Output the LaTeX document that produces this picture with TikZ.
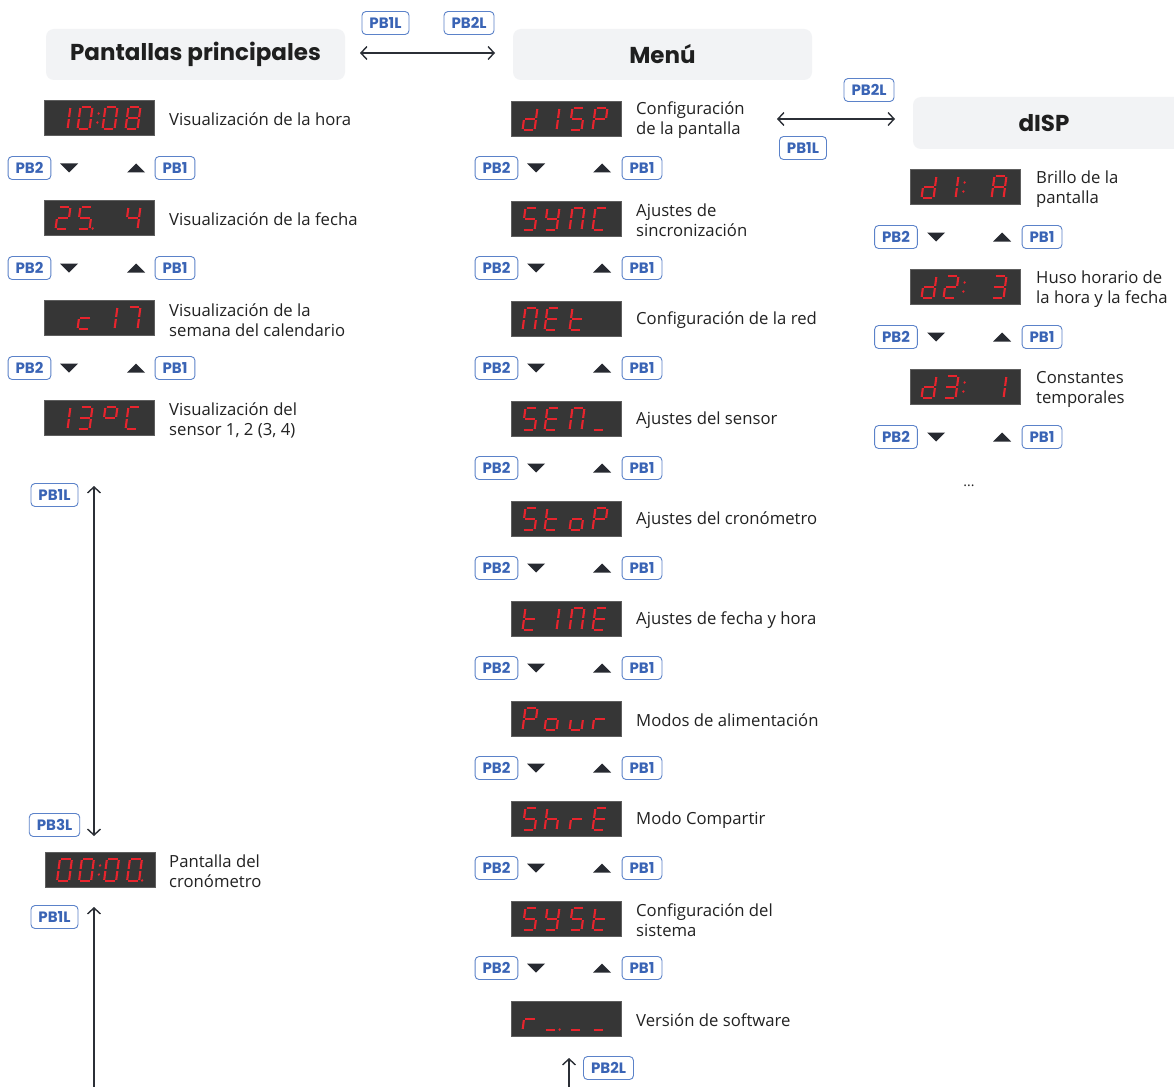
\documentclass[tikz,border=0pt]{standalone}
\usepackage{fontspec}
\setmainfont{Open Sans}
\newfontfamily\pop{Poppins}
\usetikzlibrary{arrows.meta}
\definecolor{hdrfill}{HTML}{F2F3F5}
\definecolor{segred}{HTML}{E8242D}
\definecolor{dispfill}{HTML}{363636}
\definecolor{dispedge}{HTML}{5E5E5E}
\definecolor{pbtext}{HTML}{3A64B5}
\definecolor{pbedge}{HTML}{5B82C9}
\definecolor{conn}{HTML}{2B2F36}
\definecolor{bodytext}{HTML}{222222}
\tikzset{
  seg/.style={draw=segred, line width=2.1pt},
  segdot/.style={fill=segred},
  dispbox/.style={draw=dispedge, fill=dispfill, line width=1pt, minimum width=110pt, minimum height=35pt, inner sep=0pt},
  hdr/.style={fill=hdrfill, rounded corners=8pt, minimum width=299pt, minimum height=51pt, inner sep=0pt, font=\pop\bfseries\fontsize{23}{27}\selectfont, text=black!88},
  hdrtext/.style={inner sep=0pt, font=\pop\bfseries\fontsize{23}{27}\selectfont, text=black!88},
  body/.style={anchor=west, align=left, inner sep=0pt, text=bodytext, font=\fontsize{16.7}{20}\selectfont},
  pb/.style={draw=pbedge, fill=white, line width=0.9pt, rounded corners=4pt, minimum height=23pt, inner xsep=7.5pt, inner ysep=0pt, text=pbtext, font=\pop\bfseries\fontsize{15}{17}\selectfont},
  tri/.style={fill=conn!90!black},
  connline/.style={draw=conn, line width=1.4pt},
  tipboth/.style={{Straight Barb[length=6pt,width=13pt]}-{Straight Barb[length=6pt,width=13pt]}},
  tipend/.style={-{Straight Barb[length=6pt,width=13pt]}},
}
% segments (W=12, H=11)
\newcommand\sgA{\draw[seg] (1.1,-11) -- (10.9,-11);}
\newcommand\sgB{\draw[seg] (12,-9.9) -- (12,-1.1);}
\newcommand\sgC{\draw[seg] (12,1.1) -- (12,9.9);}
\newcommand\sgD{\draw[seg] (1.1,11) -- (10.9,11);}
\newcommand\sgE{\draw[seg] (0,1.1) -- (0,9.9);}
\newcommand\sgF{\draw[seg] (0,-9.9) -- (0,-1.1);}
\newcommand\sgG{\draw[seg] (1.1,0) -- (10.9,0);}
% glyphs
\newcommand\glZero{\sgA\sgB\sgC\sgD\sgE\sgF}
\newcommand\glOne{\sgB\sgC}
\newcommand\glTwo{\sgA\sgB\sgD\sgE\sgG}
\newcommand\glThree{\sgA\sgB\sgC\sgD\sgG}
\newcommand\glFour{\sgB\sgC\sgF\sgG}
\newcommand\glFive{\sgA\sgC\sgD\sgF\sgG}
\newcommand\glSeven{\sgA\sgB\sgC}
\newcommand\glEight{\sgA\sgB\sgC\sgD\sgE\sgF\sgG}
\newcommand\gld{\sgB\sgC\sgD\sgE\sgG}
\newcommand\glS{\sgA\sgC\sgD\sgF\sgG}
\newcommand\glP{\sgA\sgB\sgE\sgF\sgG}
\newcommand\gly{\sgB\sgC\sgD\sgF\sgG}
\newcommand\glN{\sgA\sgB\sgC\sgE\sgF}
\newcommand\glCC{\sgA\sgD\sgE\sgF}
\newcommand\glc{\sgD\sgE\sgG}
\newcommand\glE{\sgA\sgD\sgE\sgF\sgG}
\newcommand\glt{\sgD\sgE\sgF\sgG}
\newcommand\glo{\sgC\sgD\sgE\sgG}
\newcommand\glu{\sgC\sgD\sgE}
\newcommand\glr{\sgE\sgG}
\newcommand\glh{\sgC\sgE\sgF\sgG}
\newcommand\glAA{\sgA\sgB\sgC\sgE\sgF\sgG}
\newcommand\gldeg{\sgA\sgB\sgF\sgG}
\newcommand\glus{\sgD}
\newcommand\dig[2]{\begin{scope}[shift={(#1,0)},xslant=0.13]#2\end{scope}}
\newcommand\colonat[1]{\begin{scope}[shift={(#1,0)},xslant=0.13]\fill[segdot] (0,-4.5) circle (1.3pt); \fill[segdot] (0,4.5) circle (1.3pt);\end{scope}}
\newcommand\dpat[1]{\begin{scope}[shift={(#1,0)},xslant=0.13]\fill[segdot] (0,10.5) circle (1.3pt);\end{scope}}
% display: name, cx, cy, c1, c2, c3, c4, extras
\newcommand\disp[8]{%
  \node[dispbox] (#1) at (#2,#3) {};
  \begin{scope}[shift={(#2-55,#3)}]
    \dig{13}{#4}\dig{35}{#5}\dig{60}{#6}\dig{83}{#7}#8
  \end{scope}}
\newcommand\tridown[2]{\fill[tri] (#1-9,#2-4.5) -- (#1+9,#2-4.5) -- (#1,#2+4.5) -- cycle;}
\newcommand\triup[2]{\fill[tri] (#1-9,#2+4.5) -- (#1+9,#2+4.5) -- (#1,#2-4.5) -- cycle;}
\begin{document}
\begin{tikzpicture}[x=1pt,y=-1pt]
\useasboundingbox[fill=white] (0,0) rectangle (1174,1086);
% headers
\node[hdr] (H1) at (195.5,54.5) {Pantallas principales};
\node[hdr] (H2) at (662.5,54.5) {Menú};
\fill[hdrfill, rounded corners=8pt] (913,97) rectangle (1210,149);
\node[hdrtext] (H3) at (1044,123) {dISP};
% header arrows
\coordinate (a1s) at (360,53);
\coordinate (a1e) at (495,53);
\draw[connline, tipboth] (a1s) -- (a1e);
\node[pb] (pA1) at (385.5,23) {PB1L};
\node[pb] (pA2) at (469,23) {PB2L};
\coordinate (a2s) at (777,119);
\coordinate (a2e) at (895,119);
\draw[connline, tipboth] (a2s) -- (a2e);
\node[pb] (pB1) at (869,90) {PB2L};
\node[pb] (pB2) at (803,148) {PB1L};
% left column
\disp{L1}{99}{118}{\glOne}{\glZero}{\glZero}{\glEight}{\colonat{54}}
\node[body] (tL1) at (169,119) {Visualización de la hora};
\disp{L2}{99}{218}{\glTwo}{\glFive}{}{\glFour}{\dpat{50}}
\node[body] (tL2) at (169,219) {Visualización de la fecha};
\disp{L3}{99}{318}{}{\glc}{\glOne}{\glSeven}{}
\node[body] (tL3) at (169,320) {Visualización de la\\semana del calendario};
\disp{L4}{99}{418}{\glOne}{\glThree}{\gldeg}{\glCC}{}
\node[body] (tL4) at (169,420) {Visualización del\\sensor 1, 2 (3, 4)};
\foreach \y [count=\i] in {168,268,368} {
  \node[pb] (lp2-\i) at (29.5,\y) {PB2};
  \tridown{69}{\y}
  \triup{136}{\y}
  \node[pb] (lp1-\i) at (175,\y) {PB1};
}
% left vertical arrows
\coordinate (v1s) at (94,486);
\coordinate (v1e) at (94,836);
\draw[connline, tipboth] (v1s) -- (v1e);
\node[pb] (pV1) at (54.5,495) {PB1L};
\node[pb] (pV2) at (54.5,825) {PB3L};
\disp{L5}{100.5}{870}{\glZero}{\glZero}{\glZero}{\glZero}{\colonat{54}\dpat{98}}
\node[body] (tL5) at (169,871) {Pantalla del\\cronómetro};
\coordinate (v2s) at (94,1090);
\coordinate (v2e) at (94,907);
\draw[connline, tipend] (v2s) -- (v2e);
\node[pb] (pV3) at (54.5,917) {PB1L};
% middle column
\disp{M1}{566}{119}{\gld}{\glOne}{\glS}{\glP}{}
\node[body] (tM1) at (636,120) {Configuración\\de la pantalla};
\disp{M2}{566}{219}{\glS}{\gly}{\glN}{\glCC}{}
\node[body] (tM2) at (636,220) {Ajustes de\\sincronización};
\disp{M3}{566}{319}{\glN}{\glE}{\glt}{}{}
\node[body] (tM3) at (636,320) {Configuración de la red};
\disp{M4}{566}{419}{\glS}{\glE}{\glN}{\glus}{}
\node[body] (tM4) at (636,420) {Ajustes del sensor};
\disp{M5}{566}{519}{\glS}{\glt}{\glo}{\glP}{}
\node[body] (tM5) at (636,520) {Ajustes del cronómetro};
\disp{M6}{566}{619}{\glt}{\glOne}{\glN}{\glE}{}
\node[body] (tM6) at (636,620) {Ajustes de fecha y hora};
\disp{M7}{566}{719}{\glP}{\glo}{\glu}{\glr}{}
\node[body] (tM7) at (636,720) {Modos de alimentación};
\disp{M8}{566}{819}{\glS}{\glh}{\glr}{\glE}{}
\node[body] (tM8) at (636,820) {Modo Compartir};
\disp{M9}{566}{919}{\glS}{\gly}{\glS}{\glt}{}
\node[body] (tM9) at (636,920) {Configuración del\\sistema};
\disp{M10}{566}{1019}{\glr}{\glus}{\glus}{\glus}{\dpat{50}}
\node[body] (tM10) at (636,1020) {Versión de software};
\foreach \y [count=\i] in {168,268,368,468,568,668,768,868,968} {
  \node[pb] (mp2-\i) at (496.5,\y) {PB2};
  \tridown{536}{\y}
  \triup{602}{\y}
  \node[pb] (mp1-\i) at (642,\y) {PB1};
}
\coordinate (v3s) at (569,1090);
\coordinate (v3e) at (569,1058);
\draw[connline, tipend] (v3s) -- (v3e);
\node[pb] (pV4) at (608.5,1068) {PB2L};
% right column
\disp{R1}{965}{187}{\gld}{\glOne}{}{\glAA}{\colonat{54}}
\node[body] (tR1) at (1036,189) {Brillo de la\\pantalla};
\disp{R2}{965}{287}{\gld}{\glTwo}{}{\glThree}{\colonat{54}}
\node[body] (tR2) at (1036,289) {Huso horario de\\la hora y la fecha};
\disp{R3}{965}{387}{\gld}{\glThree}{}{\glOne}{\colonat{54}}
\node[body] (tR3) at (1036,389) {Constantes\\temporales};
\foreach \y [count=\i] in {237,337,437} {
  \node[pb] (rp2-\i) at (896,\y) {PB2};
  \tridown{936}{\y}
  \triup{1002}{\y}
  \node[pb] (rp1-\i) at (1042,\y) {PB1};
}
\node[inner sep=0pt, text=bodytext, font=\fontsize{14}{16}\selectfont] (dots) at (969,486) {...};
\end{tikzpicture}
\end{document}
